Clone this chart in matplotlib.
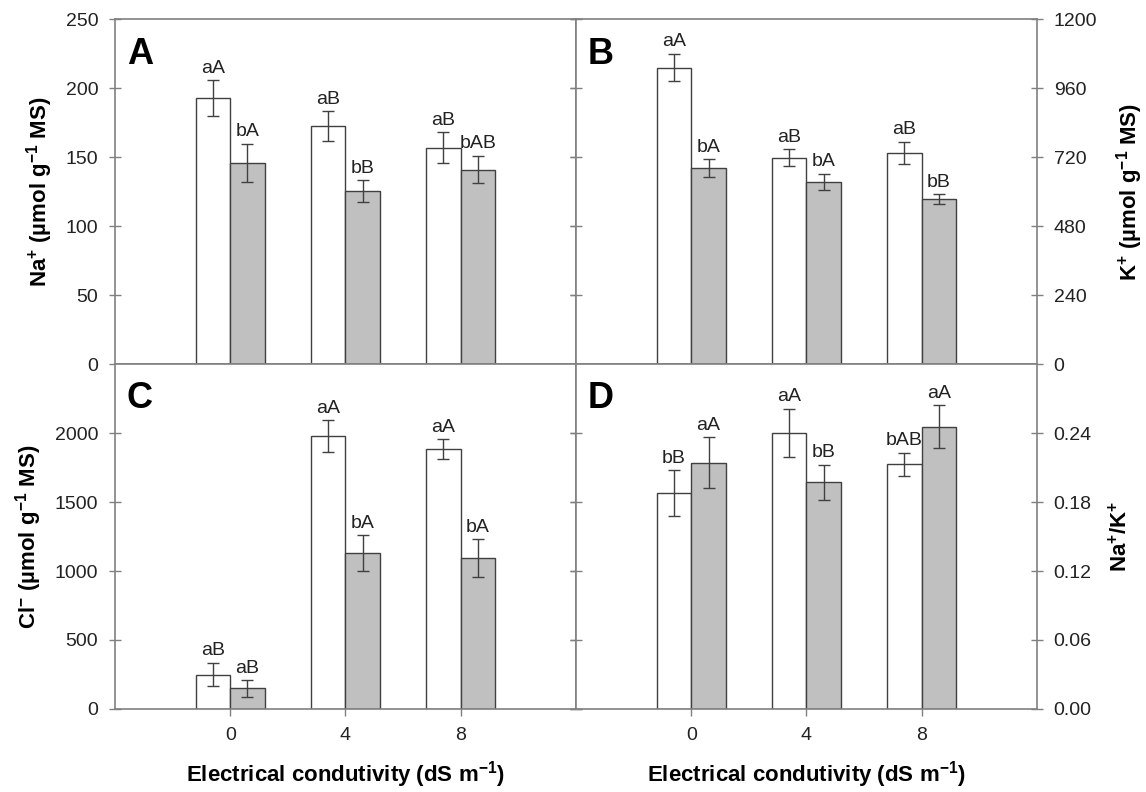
import numpy as np
import matplotlib
matplotlib.use('Agg')
import matplotlib.pyplot as plt

plt.rcParams['font.family'] = ['Liberation Sans', 'DejaVu Sans']
plt.rcParams['mathtext.default'] = 'regular'

cats = ['0', '4', '8']

# A: Na+
na_w = [193, 172.5, 157]
na_w_err = [13, 11, 11]
na_g = [146, 125.5, 141]
na_g_err = [14, 8, 10]
na_w_lab = ['aA', 'aB', 'aB']
na_g_lab = ['bA', 'bB', 'bAB']

# B: K+
k_w = [1032, 719, 735]
k_w_err = [48, 29, 40]
k_g = [682, 635, 574]
k_g_err = [32, 28, 18]
k_w_lab = ['aA', 'aB', 'aB']
k_g_lab = ['bA', 'bA', 'bB']

# C: Cl-
cl_w = [249, 1976, 1884]
cl_w_err = [85, 116, 71]
cl_g = [150, 1132, 1095]
cl_g_err = [60, 129, 135]
cl_w_lab = ['aB', 'aA', 'aA']
cl_g_lab = ['aB', 'bA', 'bA']

# D: Na+/K+
r_w = [0.1877, 0.240, 0.213]
r_w_err = [0.020, 0.021, 0.010]
r_g = [0.2142, 0.197, 0.2455]
r_g_err = [0.022, 0.0154, 0.0186]
r_w_lab = ['bB', 'aA', 'bAB']
r_g_lab = ['aA', 'bB', 'aA']

spine_c = '#808080'
edge_c = '#404040'
gray_c = '#c0c0c0'
text_c = '#222222'

fig = plt.figure(figsize=(11.46, 7.92), dpi=100)
L, M, R = 0.1003, 0.5026, 0.9049
T, H, B = 0.9754, 0.5404, 0.1048
axA = fig.add_axes([L, H, M - L, T - H])
axB = fig.add_axes([M, H, R - M, T - H])
axC = fig.add_axes([L, B, M - L, H - B])
axD = fig.add_axes([M, B, R - M, H - B])

x = np.arange(3)
w = 0.3


def panel(ax, wv, we, gv, ge, wl, gl, ylim, yticks, letter, side, fmt, bottom):
    ax.bar(x - w / 2, wv, w, color='white', edgecolor=edge_c, linewidth=1.0, zorder=2)
    ax.bar(x + w / 2, gv, w, color=gray_c, edgecolor=edge_c, linewidth=1.0, zorder=2)
    ax.errorbar(x - w / 2, wv, yerr=we, fmt='none', ecolor=edge_c, elinewidth=1.0,
                capsize=4, capthick=1.0, zorder=3)
    ax.errorbar(x + w / 2, gv, yerr=ge, fmt='none', ecolor=edge_c, elinewidth=1.0,
                capsize=4, capthick=1.0, zorder=3)
    off = (ylim[1] - ylim[0]) * 0.01
    for i in range(3):
        ax.text(x[i] - w / 2, wv[i] + we[i] + off, wl[i], ha='center', va='bottom',
                fontsize=14, color=text_c)
        ax.text(x[i] + w / 2, gv[i] + ge[i] + off, gl[i], ha='center', va='bottom',
                fontsize=14, color=text_c)
    ax.set_xlim(-1, 3)
    ax.set_ylim(*ylim)
    ax.set_yticks(yticks)
    ax.set_yticklabels([fmt.format(v) for v in yticks])
    for s in ax.spines.values():
        s.set_color(spine_c)
        s.set_linewidth(1.2)
    ax.tick_params(axis='y', which='both', color=spine_c, length=8, width=1.0,
                   direction='inout', pad=8, labelsize=14, labelcolor=text_c,
                   left=True, right=True,
                   labelleft=(side == 'left'), labelright=(side == 'right'))
    ax.set_xticks(x)
    if bottom:
        ax.set_xticklabels(cats)
        ax.tick_params(axis='x', color=spine_c, length=10, width=1.0, direction='inout',
                       labelsize=14, labelcolor=text_c, pad=8)
        ax.set_xlabel(r'Electrical condutivity (dS m$^{-1}$)', fontsize=16,
                      fontweight='bold', labelpad=11)
    else:
        ax.tick_params(axis='x', length=0, labelbottom=False)
    ax.text(0.026, 0.95, letter, transform=ax.transAxes, fontsize=26, fontweight='bold',
            va='top', ha='left')


panel(axA, na_w, na_w_err, na_g, na_g_err, na_w_lab, na_g_lab, (0, 250),
      [0, 50, 100, 150, 200, 250], 'A', 'left', '{:g}', False)
axA.set_ylabel(r'Na$^{+}$ (µmol g$^{-1}$ MS)', fontsize=16, fontweight='bold', labelpad=8)

panel(axB, k_w, k_w_err, k_g, k_g_err, k_w_lab, k_g_lab, (0, 1200),
      [0, 240, 480, 720, 960, 1200], 'B', 'right', '{:g}', False)
axB.yaxis.set_label_position('right')
axB.set_ylabel(r'K$^{+}$ (µmol g$^{-1}$ MS)', fontsize=16, fontweight='bold',
               labelpad=12, rotation=90)

panel(axC, cl_w, cl_w_err, cl_g, cl_g_err, cl_w_lab, cl_g_lab, (0, 2500),
      [0, 500, 1000, 1500, 2000], 'C', 'left', '{:g}', True)
axC.set_ylabel(r'Cl$^{-}$ (µmol g$^{-1}$ MS)', fontsize=16, fontweight='bold', labelpad=8)

panel(axD, r_w, r_w_err, r_g, r_g_err, r_w_lab, r_g_lab, (0, 0.30),
      [0.0, 0.06, 0.12, 0.18, 0.24], 'D', 'right', '{:.2f}', True)
axD.yaxis.set_label_position('right')
axD.set_ylabel(r'Na$^{+}$/K$^{+}$', fontsize=16, fontweight='bold', labelpad=12,
               rotation=90)

fig.savefig('out.png', dpi=100)
